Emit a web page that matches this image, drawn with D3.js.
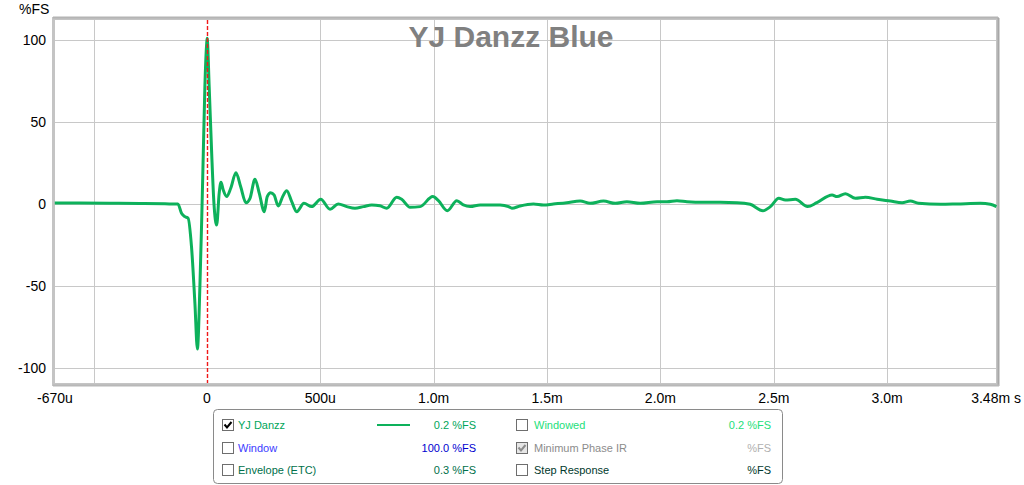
<!DOCTYPE html>
<html><head><meta charset="utf-8">
<script src="https://cdn.jsdelivr.net/npm/d3@7/dist/d3.min.js"></script>
<style>
html,body{margin:0;padding:0;background:#fff;}
svg{display:block;font-family:"Liberation Sans",Arial,sans-serif;}
</style></head>
<body>
<svg id="chart" width="1024" height="485"></svg>
<script>
// ---- data (time in ms, value in %FS) ----
const timeMs = [-0.671,-0.560,-0.428,-0.296,-0.185,-0.128,-0.112,-0.097,-0.083,-0.068,-0.053,-0.042,-0.031,-0.023,-0.016,-0.009,-0.001,0.001,0.010,0.021,0.031,0.043,0.054,0.062,0.072,0.087,0.105,0.128,0.149,0.172,0.190,0.212,0.231,0.253,0.266,0.281,0.296,0.315,0.334,0.352,0.374,0.396,0.428,0.462,0.502,0.543,0.579,0.617,0.653,0.690,0.727,0.763,0.793,0.837,0.859,0.896,0.940,0.996,1.021,1.060,1.102,1.131,1.161,1.205,1.249,1.293,1.330,1.345,1.381,1.440,1.484,1.528,1.587,1.646,1.690,1.749,1.801,1.852,1.911,1.985,2.029,2.073,2.117,2.190,2.264,2.338,2.396,2.452,2.485,2.522,2.551,2.595,2.649,2.690,2.757,2.779,2.816,2.860,2.904,2.956,3.014,3.066,3.102,3.138,3.235,3.308,3.411,3.455,3.482];
const yjDanzz = [0.6,0.6,0.5,0.3,0.1,0,-5.7,-7.7,-8.7,-26,-60.4,-88.4,-50.4,-9.8,31.1,71.5,98,101,71.5,30.9,0.4,-12.8,6.5,13.2,8.5,4.5,9.6,19.1,10.5,0.8,3.5,15.1,6.5,-4.7,4.5,6.9,5.5,-1.2,4.5,8.1,1.4,-4.7,0.4,-1.6,2.9,-3.2,0,-1.6,-2.6,-1.6,-0.6,-1.1,-2.6,4.1,2.9,-2,-1.6,4.5,2,-4.1,2,-0.6,-1.6,-0.6,-0.6,-0.6,-1.6,-2.6,-1.2,0,-0.6,0,0.8,1.8,0.4,1.8,0.4,1.4,0.4,1.4,1.4,2,1.4,1,1,0.8,-0.2,-4.1,-1.6,3.5,2.4,2.9,-1.6,0.8,5.5,4.5,6.3,3.5,4.1,2.9,1.8,0.8,1.8,0.4,-0.2,0,0.4,-0.2,-1.6];

const xTickValues = [-0.67,0,0.5,1.0,1.5,2.0,2.5,3.0,3.48];
const xTickLabels = ["-670u","0","500u","1.0m","1.5m","2.0m","2.5m","3.0m","3.48m s"];
const xGridValues = [-0.5,0.5,1.0,1.5,2.0,2.5,3.0];
const yTickValues = [100,50,0,-50,-100];
const yTickLabels = ["100","50","0","-50","-100"];

const title = "YJ Danzz Blue";
const yUnit = "%FS";

const legendLeft = [
  {label:"YJ Danzz", value:"0.2 %FS", color:"#00a55a", checked:true, line:true},
  {label:"Window", value:"100.0 %FS", color:"#3c3cff", valueColor:"#0000d0", checked:false},
  {label:"Envelope (ETC)", value:"0.3 %FS", color:"#00704a", checked:false}
];
const legendRight = [
  {label:"Windowed", value:"0.2 %FS", color:"#22e07a", checked:false},
  {label:"Minimum Phase IR", value:"%FS", color:"#8c8c8c", valueColor:"#b0b0b0", checked:true, disabled:true},
  {label:"Step Response", value:"%FS", color:"#00382c", checked:false}
];

// ---- layout ----
const svg = d3.select("#chart");
const L = 55, R = 996, T = 20, B = 383;
const x = d3.scaleLinear().domain([-0.67, 3.48]).range([L, R]);
const y = d3.scaleLinear().domain([-100, 100]).range([368, 40]);

// plot frame (with shadowed border)
svg.append("rect").attr("x", L-1.5).attr("y", T-1.5).attr("width", R-L+3).attr("height", B-T+3)
  .attr("fill", "#fff").attr("stroke", "#c4c4c4").attr("stroke-width", 3);
svg.append("line").attr("x1", L-2).attr("x2", R+2).attr("y1", T-2.5).attr("y2", T-2.5)
  .attr("stroke", "#b4b4b4").attr("stroke-width", 2);
svg.append("line").attr("x1", R+2.5).attr("x2", R+2.5).attr("y1", T-2).attr("y2", B+3)
  .attr("stroke", "#a8a8a8").attr("stroke-width", 2);
svg.append("line").attr("x1", L-2).attr("x2", R+3).attr("y1", B+2.5).attr("y2", B+2.5)
  .attr("stroke", "#b8b8b8").attr("stroke-width", 2);

const plot = svg.append("g");
// gridlines
plot.selectAll("line.hg").data(yTickValues).join("line").attr("class","hg")
  .attr("x1", L).attr("x2", R).attr("y1", d => Math.round(y(d))+0.5).attr("y2", d => Math.round(y(d))+0.5)
  .attr("stroke", "#c8c8c8").attr("stroke-width", 1);
plot.selectAll("line.vg").data(xGridValues).join("line").attr("class","vg")
  .attr("y1", T).attr("y2", B).attr("x1", d => Math.round(x(d))+0.5).attr("x2", d => Math.round(x(d))+0.5)
  .attr("stroke", "#c8c8c8").attr("stroke-width", 1);

// title
svg.append("text").attr("x", 511).attr("y", 47).attr("text-anchor","middle")
  .attr("font-size", 30).attr("font-weight","bold").attr("fill","#808080").text(title);

// curve
const pts = timeMs.map((t,i) => [t, yjDanzz[i]]);
plot.append("path").datum(pts)
  .attr("d", d3.line().x(d => x(d[0])).y(d => y(d[1])).curve(d3.curveMonotoneX))
  .attr("fill","none").attr("stroke","#0db15b").attr("stroke-width",3).attr("stroke-linejoin","round");

// zero marker (red dashed), drawn over the curve
plot.append("line").attr("x1", Math.round(x(0))+0.5).attr("x2", Math.round(x(0))+0.5).attr("y1", T).attr("y2", B)
  .attr("stroke", "#f01818").attr("stroke-width", 1.4).attr("stroke-dasharray","4,2");

// axes labels
const xa = svg.append("g").attr("font-size", 14).attr("fill", "#000");
xTickValues.forEach((v,i) => {
  const last = i === xTickValues.length-1;
  xa.append("text").attr("x", last ? 1021 : x(v)).attr("y", 403)
    .attr("text-anchor", last ? "end" : "middle").text(xTickLabels[i]);
});
const ya = svg.append("g").attr("font-size", 14).attr("fill", "#000");
yTickValues.forEach((v,i) => {
  ya.append("text").attr("x", 46).attr("y", y(v)).attr("dy","0.35em")
    .attr("text-anchor","end").text(yTickLabels[i]);
});
svg.append("text").attr("x", 19).attr("y", 14).attr("font-size", 14).attr("fill","#000").text(yUnit);

// legend
const lg = svg.append("g").attr("font-size", 11);
lg.append("rect").attr("x", 213.5).attr("y", 409.5).attr("width", 569).attr("height", 74)
  .attr("rx", 4).attr("fill","#fff").attr("stroke","#8a8a8a");
const rowY = [425, 448, 470];
function checkbox(g, cx, cy, checked, disabled) {
  g.append("rect").attr("x", cx-5.5).attr("y", cy-5.5).attr("width", 11).attr("height", 11)
    .attr("fill", disabled ? "#e6e6e6" : "#fff").attr("stroke", "#6e6e6e");
  if (checked) {
    g.append("path").attr("d", `M${cx-3.5},${cy-0.5} L${cx-1},${cy+2.5} L${cx+3.5},${cy-3}`)
      .attr("fill","none").attr("stroke", disabled ? "#8c8c8c" : "#000").attr("stroke-width", 2);
  }
}
function legendCol(items, cbX, labelX, valueX, lineX) {
  items.forEach((it, i) => {
    const cy = rowY[i];
    checkbox(lg, cbX, cy, it.checked, it.disabled);
    lg.append("text").attr("x", labelX).attr("y", cy).attr("dy","0.35em").attr("fill", it.color).text(it.label);
    if (it.line) lg.append("line").attr("x1", lineX).attr("x2", lineX+33).attr("y1", cy).attr("y2", cy)
      .attr("stroke","#0db15b").attr("stroke-width",2);
    lg.append("text").attr("x", valueX).attr("y", cy).attr("dy","0.35em").attr("text-anchor","end")
      .attr("fill", it.valueColor || it.color).text(it.value);
  });
}
legendCol(legendLeft, 228, 238, 476, 377);
legendCol(legendRight, 522, 534, 771, 0);
</script>
</body></html>
